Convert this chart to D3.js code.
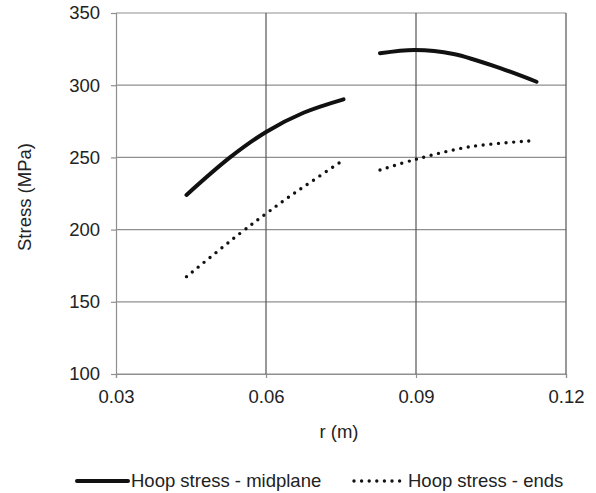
<!DOCTYPE html>
<html>
<head>
<meta charset="utf-8">
<script src="https://cdn.jsdelivr.net/npm/d3@7"></script>
<style>
  body { margin: 0; background: #fff; }
  svg text { font-family: "Liberation Sans", Arial, sans-serif; fill: #222; }
</style>
</head>
<body>
<svg id="vis" width="596" height="493"></svg>
<script>
// values
const midR1 = [0.0441, 0.0528, 0.0601, 0.0675, 0.0755];
const midS1 = [224, 250, 267.8, 280.9, 290.2];
const midR2 = [0.0828, 0.0898, 0.0975, 0.1075, 0.1141];
const midS2 = [322.1, 324.4, 321.6, 311, 302.4];
const endsR1 = [0.0441, 0.0548, 0.0601, 0.0645, 0.0755];
const endsS1 = [167.4, 197.4, 211.3, 222.4, 248.2];
const endsR2 = [0.0828, 0.09, 0.1008, 0.1135];
const endsS2 = [241.3, 248.7, 257.4, 261.6];
const xTicks = [0.03, 0.06, 0.09, 0.12];
const yTicks = [100, 150, 200, 250, 300, 350];
const legendLabels = ['Hoop stress - midplane', 'Hoop stress - ends'];

const svg = d3.select('#vis');
const x = d3.scaleLinear().domain([0.03, 0.12]).range([116, 566]);
const y = d3.scaleLinear().domain([100, 350]).range([374, 13]);

// horizontal grid
svg.append('g').selectAll('line').data(yTicks).enter().append('line')
  .attr('x1', x(0.03)).attr('x2', x(0.12))
  .attr('y1', d => y(d)).attr('y2', d => y(d))
  .attr('stroke', '#8f8f8f').attr('stroke-width', 1.2);

// vertical grid
svg.append('g').selectAll('line').data(xTicks.slice(1)).enter().append('line')
  .attr('x1', d => x(d)).attr('x2', d => x(d))
  .attr('y1', y(100)).attr('y2', y(350))
  .attr('stroke', '#555').attr('stroke-width', 1.2);

const yAxis = svg.append('g')
  .attr('transform', `translate(${x(0.03)},0)`)
  .call(d3.axisLeft(y).tickValues(yTicks).tickSize(5).tickPadding(11).tickFormat(d3.format('d')));
const xAxis = svg.append('g')
  .attr('transform', `translate(0,${y(100)})`)
  .call(d3.axisBottom(x).tickValues(xTicks).tickSize(4).tickPadding(12).tickFormat(d3.format('.2f')));

[yAxis, xAxis].forEach(a => {
  a.select('.domain').attr('stroke', '#8f8f8f').attr('stroke-width', 1.2);
  a.selectAll('.tick line').attr('stroke', '#8f8f8f').attr('stroke-width', 1.2);
  a.selectAll('.tick text').style('font-size', '18.5px').attr('fill', '#222');
});

const line = d3.line()
  .x(d => x(d[0]))
  .y(d => y(d[1]))
  .curve(d3.curveCatmullRom.alpha(0.5));

const solid = [d3.zip(midR1, midS1), d3.zip(midR2, midS2)];
const dotted = [d3.zip(endsR1, endsS1), d3.zip(endsR2, endsS2)];

svg.append('g').selectAll('path').data(solid).enter().append('path')
  .attr('d', line)
  .attr('fill', 'none')
  .attr('stroke', '#111')
  .attr('stroke-width', 4)
  .attr('stroke-linecap', 'round');

svg.append('g').selectAll('path').data(dotted).enter().append('path')
  .attr('d', line)
  .attr('fill', 'none')
  .attr('stroke', '#111')
  .attr('stroke-width', 3.4)
  .attr('stroke-linecap', 'round')
  .attr('stroke-dasharray', '0,7.6');

// axis titles
svg.append('text')
  .attr('x', 339).attr('y', 438)
  .attr('text-anchor', 'middle')
  .style('font-size', '18.5px')
  .text('r (m)');

svg.append('text')
  .attr('transform', 'translate(31,197) rotate(-90)')
  .attr('text-anchor', 'middle')
  .style('font-size', '18.5px')
  .text('Stress (MPa)');

// legend
const legend = svg.append('g');
legend.append('line')
  .attr('x1', 77).attr('x2', 128).attr('y1', 481).attr('y2', 481)
  .attr('stroke', '#111').attr('stroke-width', 4)
  .attr('stroke-linecap', 'round');
legend.append('text')
  .attr('x', 131).attr('y', 487)
  .style('font-size', '18.5px')
  .text(legendLabels[0]);
legend.append('line')
  .attr('x1', 354).attr('x2', 404).attr('y1', 481).attr('y2', 481)
  .attr('stroke', '#111').attr('stroke-width', 3.4)
  .attr('stroke-linecap', 'round')
  .attr('stroke-dasharray', '0,7.6');
legend.append('text')
  .attr('x', 408).attr('y', 487)
  .style('font-size', '18.5px')
  .text(legendLabels[1]);
</script>
</body>
</html>
